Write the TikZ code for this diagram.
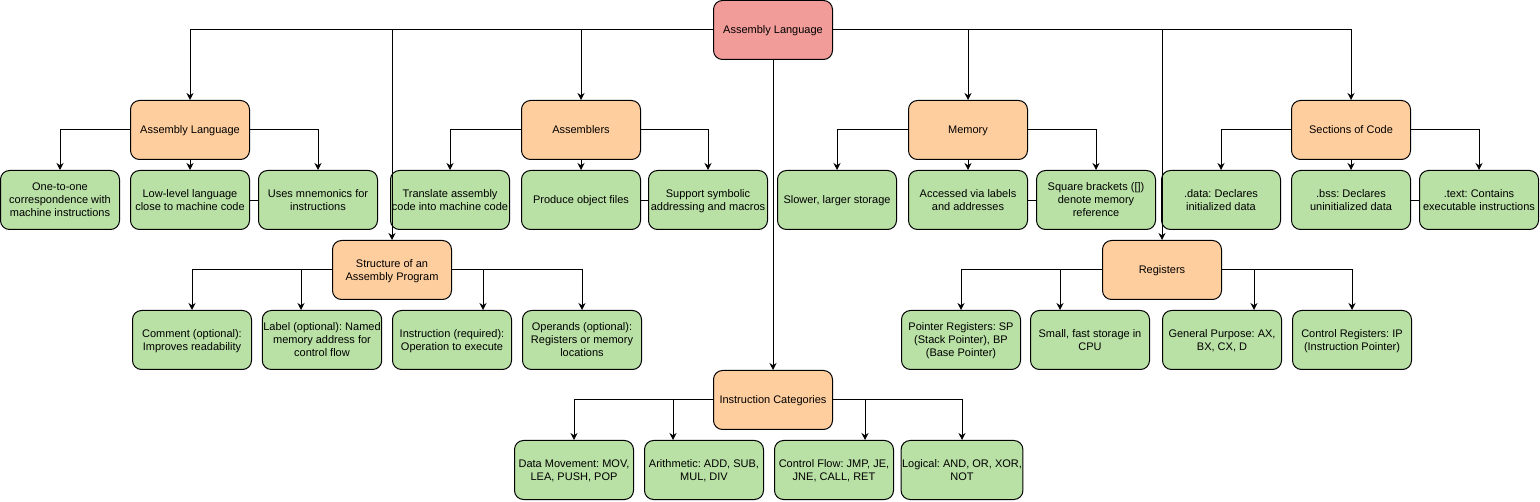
\documentclass[tikz,border=0pt]{standalone}
\usepackage{fontspec}
\setmainfont{Liberation Sans}
\usetikzlibrary{arrows.meta,positioning}
\definecolor{rootred}{HTML}{F19C99}
\definecolor{topicorange}{HTML}{FFCE9F}
\definecolor{leafgreen}{HTML}{B9E0A5}
\frenchspacing

\begin{document}
\begin{tikzpicture}[x=1pt, y=-1pt,
  box/.style={rectangle, draw=black, line width=1pt, rounded corners=9pt,
              minimum width=119pt, minimum height=59pt, inner sep=1pt,
              text depth=0pt, align=center, font=\fontsize{11}{13}\selectfont},
  rootbox/.style={box, fill=rootred},
  topic/.style={box, fill=topicorange},
  leaf/.style={box, fill=leafgreen},
  link/.style={draw, line width=1pt, -{Stealth[length=7pt,width=7pt]}},
]
  \useasboundingbox (0,0) rectangle (1540,502);

  \node[rootbox] (root) at (773,30) {Assembly Language};

  \node[topic] (lang) at (190,130) {Assembly Language};
  \node[topic] (asm) at (581,130) {Assemblers};
  \node[topic] (mem) at (968,130) {Memory};
  \node[topic] (sect) at (1351,130) {Sections of Code};
  \node[topic] (struct) at (392,270) {Structure of an\\Assembly Program};
  \node[topic] (regs) at (1162,270) {Registers};
  \node[topic] (instr) at (773,400) {Instruction Categories};

  \node[leaf] (g1) at (60,200) {One-to-one\\correspondence with\\machine instructions};
  \node[leaf] (g2) at (190,200) {Low-level language\\close to machine code};
  \node[leaf] (g3) at (318,200) {Uses mnemonics for\\instructions};
  \node[leaf] (a1) at (450,200) {Translate assembly\\code into machine code};
  \node[leaf] (a2) at (581,200) {Produce object files};
  \node[leaf] (a3) at (708,200) {Support symbolic\\addressing and macros};
  \node[leaf] (m1) at (837,200) {Slower, larger storage};
  \node[leaf] (m2) at (968,200) {Accessed via labels\\and addresses};
  \node[leaf] (m3) at (1096,200) {Square brackets ([])\\denote memory\\reference};
  \node[leaf] (s1) at (1221,200) {.data: Declares\\initialized data};
  \node[leaf] (s2) at (1351,200) {.bss: Declares\\uninitialized data};
  \node[leaf] (s3) at (1479,200) {.text: Contains\\executable instructions};

  \node[leaf] (c1) at (192,340) {Comment (optional):\\Improves readability};
  \node[leaf] (c2) at (322,340) {Label (optional): Named\\memory address for\\control flow};
  \node[leaf] (c3) at (452,340) {Instruction (required):\\Operation to execute};
  \node[leaf] (c4) at (582,340) {Operands (optional):\\Registers or memory\\locations};
  \node[leaf] (r1) at (961,340) {Pointer Registers: SP\\(Stack Pointer), BP\\(Base Pointer)};
  \node[leaf] (r2) at (1090,340) {Small, fast storage in\\CPU};
  \node[leaf] (r3) at (1222,340) {General Purpose: AX,\\BX, CX, D};
  \node[leaf] (r4) at (1352,340) {Control Registers: IP\\(Instruction Pointer)};

  \node[leaf] (i1) at (574,470) {Data Movement: MOV,\\LEA, PUSH, POP};
  \node[leaf] (i2) at (704,470) {Arithmetic: ADD, SUB,\\MUL, DIV};
  \node[leaf] (i3) at (834,470) {Control Flow: JMP, JE,\\JNE, CALL, RET};
  \node[leaf] (i4) at (962,470) {Logical: AND, OR, XOR,\\NOT};

  % root to topics
  \draw[link] (root.west) -| (lang.north);
  \draw[link] (root.west) -| (struct.north);
  \draw[link] (root.west) -| (asm.north);
  \draw[link] (root.south) -- (instr.north);
  \draw[link] (root.east) -| (mem.north);
  \draw[link] (root.east) -| (regs.north);
  \draw[link] (root.east) -| (sect.north);

  % topics to leaves
  \draw[link] (lang.west) -| (g1.north);
  \draw[link] (lang.south) -- (g2.north);
  \draw[link] (lang.east) -| (g3.north);
  \draw (g2.east) -- (g3.west);

  \draw[link] (asm.west) -| (a1.north);
  \draw[link] (asm.south) -- (a2.north);
  \draw[link] (asm.east) -| (a3.north);
  \draw (a2.east) -- (a3.west);

  \draw[link] (mem.west) -| (m1.north);
  \draw[link] (mem.south) -- (m2.north);
  \draw[link] (mem.east) -| (m3.north);
  \draw (m2.east) -- (m3.west);

  \draw[link] (sect.west) -| (s1.north);
  \draw[link] (sect.south) -- (s2.north);
  \draw[link] (sect.east) -| (s3.north);
  \draw (s2.east) -- (s3.west);

  \draw[link] (struct.west) -| (c1.north);
  \draw[link] (struct.west) -| ([xshift=-21pt]c2.north);
  \draw[link] (struct.east) -| ([xshift=31pt]c3.north);
  \draw[link] (struct.east) -| (c4.north);

  \draw[link] (regs.west) -| (r1.north);
  \draw[link] (regs.west) -| ([xshift=-30pt]r2.north);
  \draw[link] (regs.east) -| ([xshift=32pt]r3.north);
  \draw[link] (regs.east) -| (r4.north);

  \draw[link] (instr.west) -| (i1.north);
  \draw[link] (instr.west) -| ([xshift=-31pt]i2.north);
  \draw[link] (instr.east) -| ([xshift=31pt]i3.north);
  \draw[link] (instr.east) -| (i4.north);
\end{tikzpicture}
\end{document}
